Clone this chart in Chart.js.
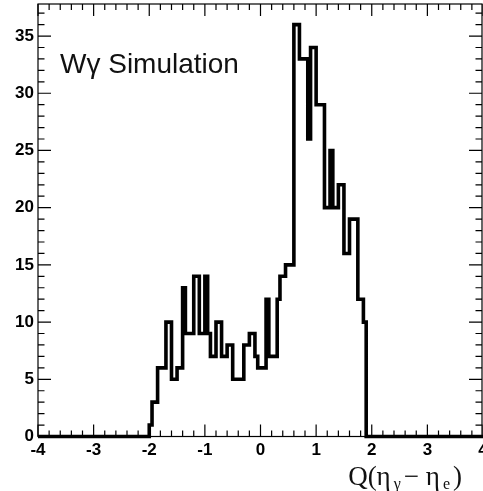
<!DOCTYPE html>
<html>
<head>
<meta charset="utf-8">
<title>W gamma simulation</title>
<script src="https://cdn.jsdelivr.net/npm/chart.js@4.4.1/dist/chart.umd.min.js"></script>
<style>
  html, body { margin: 0; padding: 0; background: #fff; }
  #wrap { width: 483px; height: 491px; }
</style>
</head>
<body>
<div id="wrap"><canvas id="hist" width="483" height="491"></canvas></div>
<script>
'use strict';

// histogram: left edge of each 0.05 bin and its entries
const binEdges = [
  -2.00, -1.95, -1.90, -1.85, -1.80, -1.75, -1.70, -1.65, -1.60, -1.55,
  -1.50, -1.45, -1.40, -1.35, -1.30, -1.25, -1.20, -1.15, -1.10, -1.05,
  -1.00, -0.95, -0.90, -0.85, -0.80, -0.75, -0.70, -0.65, -0.60, -0.55,
  -0.50, -0.45, -0.40, -0.35, -0.30, -0.25, -0.20, -0.15, -0.10, -0.05,
   0.00,  0.05,  0.10,  0.15,  0.20,  0.25,  0.30,  0.35,  0.40,  0.45,
   0.50,  0.55,  0.60,  0.65,  0.70,  0.75,  0.80,  0.85,  0.90,  0.95,
   1.00,  1.05,  1.10,  1.15,  1.20,  1.25,  1.30,  1.35,  1.40,  1.45,
   1.50,  1.55,  1.60,  1.65,  1.70,  1.75,  1.80,  1.85
];
const binCounts = [
   1,  3,  3,  6,  6,  6, 10, 10,  5,  5,
   6,  6, 13,  9,  9,  9, 14, 14,  9,  9,
  14,  9,  7,  7, 10, 10,  7,  7,  8,  8,
   5,  5,  5,  5,  8,  8,  9,  9,  7,  6,
   6,  6, 12,  7,  7,  7, 12, 14, 14, 15,
  15, 15, 36, 36, 33, 33, 33, 26, 34, 34,
  29, 29, 29, 20, 20, 25, 20, 20, 22, 22,
  16, 16, 19, 19, 19, 12, 12, 10
];
const histEnd = 1.90;

const xRange = [-4, 4];
const yRange = [0, 37.8];
const xTicks = [-4, -3, -2, -1, 0, 1, 2, 3, 4];
const yTicks = [0, 5, 10, 15, 20, 25, 30, 35];

// outline runs along zero over the whole axis, like the ROOT drawing
const points = [{x: xRange[0], y: 0}];
binEdges.forEach((e, i) => points.push({x: e, y: binCounts[i]}));
points.push({x: histEnd, y: 0});
points.push({x: xRange[1], y: 0});

// frame, inward ticks and labels in ROOT style
const rootFrame = {
  id: 'rootFrame',
  beforeDatasetsDraw(chart) {
    const {ctx, chartArea: a, scales: {x, y}} = chart;
    ctx.save();
    ctx.strokeStyle = '#000';
    ctx.lineWidth = 1.2;
    ctx.strokeRect(a.left, a.top, a.right - a.left - 1, a.bottom - a.top);
    ctx.beginPath();
    for (let k = 0; k <= 40; k++) {
      const v = xRange[0] + k * 0.2;
      const px = x.getPixelForValue(v);
      const len = k % 5 === 0 ? 12 : 6;
      ctx.moveTo(px, a.bottom); ctx.lineTo(px, a.bottom - len);
      ctx.moveTo(px, a.top); ctx.lineTo(px, a.top + len);
    }
    for (let v = 0; v <= 37; v++) {
      const py = y.getPixelForValue(v);
      const len = v % 5 === 0 ? 13 : 6.5;
      ctx.moveTo(a.left, py); ctx.lineTo(a.left + len, py);
      ctx.moveTo(a.right - 1, py); ctx.lineTo(a.right - 1 - len, py);
    }
    ctx.stroke();
    ctx.restore();
  },
  afterDraw(chart) {
    const {ctx, chartArea: a, scales: {x, y}} = chart;
    ctx.save();
    ctx.fillStyle = '#000';
    ctx.font = 'bold 17px "Liberation Sans", Arial, sans-serif';
    ctx.textAlign = 'right';
    ctx.textBaseline = 'middle';
    yTicks.forEach(v => ctx.fillText(String(v), a.left - 4, y.getPixelForValue(v)));
    ctx.textAlign = 'center';
    ctx.textBaseline = 'top';
    xTicks.forEach(v => ctx.fillText(String(v), x.getPixelForValue(v), a.bottom + 5));

    // label inside the frame
    ctx.textAlign = 'left';
    ctx.textBaseline = 'alphabetic';
    ctx.font = '28px "Liberation Sans", Arial, sans-serif';
    ctx.fillStyle = '#111';
    ctx.fillText('W\u03b3 Simulation', 60, 73);

    // axis title Q(eta_gamma - eta_e), right aligned under the axis
    const big = '27px "Liberation Serif", "DejaVu Serif", serif';
    const small = '16px "Liberation Serif", "DejaVu Serif", serif';
    const parts = [
      {t: 'Q(\u03b7', f: big, dy: 0},
      {t: '\u03b3', f: small, dy: 4},
      {t: '\u2212 \u03b7', f: big, dy: 0},
      {t: 'e', f: small, dy: 4},
      {t: ')', f: big, dy: 0}
    ];
    let total = 0;
    parts.forEach(p => { ctx.font = p.f; p.w = ctx.measureText(p.t).width + 3; total += p.w; });
    let cx = 465 - total;
    const base = 485;
    parts.forEach(p => {
      ctx.font = p.f;
      ctx.fillText(p.t, cx, base + p.dy);
      cx += p.w;
    });
    ctx.restore();
  }
};

new Chart(document.getElementById('hist'), {
  type: 'line',
  data: {
    datasets: [{
      data: points,
      stepped: true,
      borderColor: '#000',
      borderWidth: 3.6,
      borderJoinStyle: 'miter',
      borderCapStyle: 'butt',
      pointRadius: 0,
      fill: false,
      clip: false
    }]
  },
  options: {
    responsive: false,
    animation: false,
    devicePixelRatio: 1,
    layout: {padding: {left: 38, right: 0, top: 4, bottom: 54.5}},
    plugins: {legend: {display: false}, tooltip: {enabled: false}},
    scales: {
      x: {type: 'linear', min: xRange[0], max: xRange[1], display: false},
      y: {type: 'linear', min: yRange[0], max: yRange[1], display: false}
    }
  },
  plugins: [rootFrame]
});
</script>
</body>
</html>
